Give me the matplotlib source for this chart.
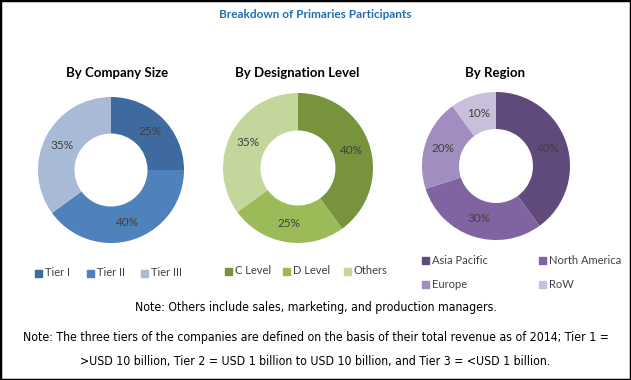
import matplotlib.pyplot as plt
from matplotlib.patches import Rectangle

W, H = 631, 380

# data
size_labels = ['Tier I', 'Tier II', 'Tier III']
size_vals = [25, 40, 35]
size_colors = ['#3F6AA0', '#4F81BD', '#A9BAD7']

desig_labels = ['C Level', 'D Level', 'Others']
desig_vals = [40, 25, 35]
desig_colors = ['#77933C', '#9BBB59', '#C3D69B']

region_labels = ['Asia Pacific', 'North America', 'Europe', 'RoW']
region_vals = [40, 30, 20, 10]
region_colors = ['#604A7B', '#8064A2', '#A18DBF', '#C9BFDA']

calib = ['Lato', 'DejaVu Sans']

fig = plt.figure(figsize=(W / 100, H / 100), dpi=100)
fig.patch.set_facecolor('white')
fig.patches.append(Rectangle((0, 0), 1, 1, transform=fig.transFigure,
                             fill=False, edgecolor='black', linewidth=2.5))


def px_axes(cx, cy, r):
    return fig.add_axes([(cx - r) / W, 1 - (cy + r) / H, 2 * r / W, 2 * r / H])


def donut(cx, cy, r, vals, colors):
    ax = px_axes(cx, cy, r)
    ax.pie(vals, colors=colors, startangle=90, counterclock=False,
           radius=1, wedgeprops=dict(width=0.5, edgecolor='none'),
           labels=[f'{v}%' for v in vals], labeldistance=0.75,
           textprops=dict(fontsize=8.5, color='#404040', family=calib,
                          ha='center', va='center'))
    ax.set_xlim(-1, 1)
    ax.set_ylim(-1, 1)
    ax.set_aspect('equal')
    ax.axis('off')


def legend_item(lab, col, x, y):
    fig.patches.append(Rectangle((x / W, 1 - (y + 3.5) / H), 7 / W, 7 / H,
                                 transform=fig.transFigure, color=col))
    fig.text((x + 10) / W, 1 - y / H, lab, fontsize=8, color='#404040',
             family=calib, va='center', ha='left')


fig.text(0.5, 1 - 14 / H, 'Breakdown of Primaries Participants', ha='center',
         va='center', fontsize=8.5, fontweight='bold', color='#1F6FB3', family=calib)

for x, t in [(117, 'By Company Size'), (297, 'By Designation Level'), (495, 'By Region')]:
    fig.text(x / W, 1 - 73 / H, t, ha='center', va='center', fontsize=9.5,
             fontweight='bold', color='black', family=calib)

donut(111, 170, 73, size_vals, size_colors)
donut(298, 168, 75, desig_vals, desig_colors)
donut(496, 166, 74, region_vals, region_colors)

for lab, col, x in zip(size_labels, size_colors, [35, 87, 141]):
    legend_item(lab, col, x, 273)
for lab, col, x in zip(desig_labels, desig_colors, [225, 283, 344]):
    legend_item(lab, col, x, 271)
for lab, col, x, y in zip(region_labels, region_colors, [422, 539, 422, 539], [260, 260, 284, 284]):
    legend_item(lab, col, x, y)

note_kw = dict(ha='center', va='center', fontsize=8.8, family='DejaVu Sans',
               fontstretch='condensed', color='black')
fig.text(0.5, 1 - 307 / H, 'Note: Others include sales, marketing, and production managers.', **note_kw)
fig.text(0.5, 1 - 338 / H, 'Note: The three tiers of the companies are defined on the basis of '
         'their total revenue as of 2014; Tier 1 =', **note_kw)
fig.text(0.5, 1 - 362 / H, '>USD 10 billion, Tier 2 = USD 1 billion to USD 10 billion, '
         'and Tier 3 = <USD 1 billion.', **note_kw)

fig.savefig('out.png', dpi=100)
